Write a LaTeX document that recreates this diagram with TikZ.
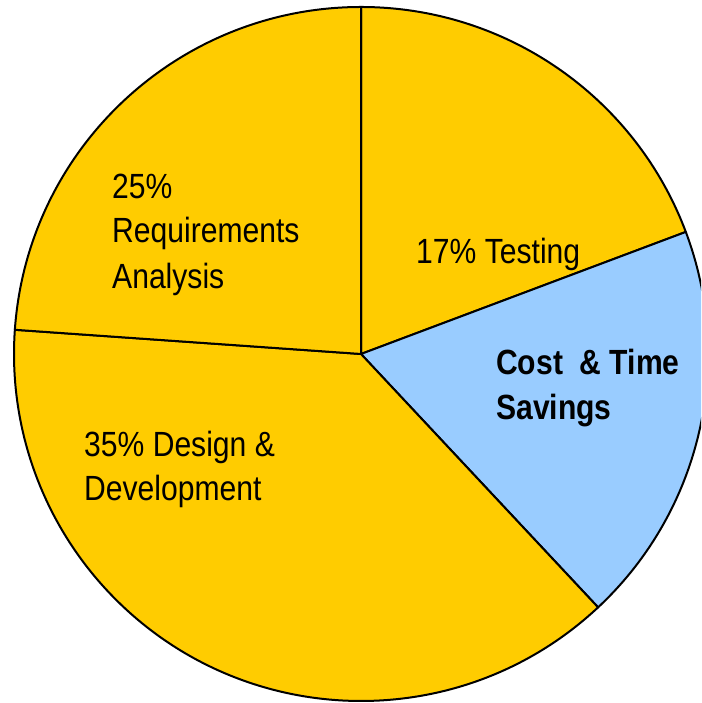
\documentclass[tikz,border=0pt]{standalone}
\usepackage{fontspec}
\newfontfamily\narrowfont[FakeStretch=0.86]{Liberation Sans}
\definecolor{pieyellow}{HTML}{FFCC00}
\definecolor{pieblue}{HTML}{99CCFF}
\begin{document}
\begin{tikzpicture}[x=1pt,y=1pt,
  slice/.style={draw=black,line width=2pt,line join=round},
  lbl/.style={anchor=base west,inner sep=0pt,font=\narrowfont\fontsize{35}{45}\selectfont},
  blbl/.style={lbl,font=\narrowfont\bfseries\fontsize{35}{45}\selectfont}]
\useasboundingbox (0,0) rectangle (701,703);
\clip (0,0) rectangle (701,703);
\coordinate (C) at (361,349);
\def\R{347}
% Testing
\filldraw[slice,fill=pieyellow] (C) -- ++(90:\R) arc[start angle=90,end angle=20.6,radius=\R] -- cycle;
% Cost & Time Savings
\filldraw[slice,fill=pieblue] (C) -- ++(20.6:\R) arc[start angle=20.6,end angle=-46.9,radius=\R] -- cycle;
% Design & Development
\filldraw[slice,fill=pieyellow] (C) -- ++(-46.9:\R) arc[start angle=-46.9,end angle=-184,radius=\R] -- cycle;
% Requirements
\filldraw[slice,fill=pieyellow] (C) -- ++(176:\R) arc[start angle=176,end angle=90,radius=\R] -- cycle;
% labels
\node[lbl] (t1) at (416,439) {17\% Testing};
\node[lbl] (r1) at (112,504) {25\%};
\node[lbl] (r2) at (112,460) {Requirements};
\node[lbl] (r3) at (112,414) {Analysis};
\node[lbl] (d1) at (84,246) {35\% Design \&};
\node[lbl] (d2) at (84,202) {Development};
\node[blbl] (c1) at (496,328) {Cost \ \& Time};
\node[blbl] (c2) at (496,283) {Savings};
\end{tikzpicture}
\end{document}
